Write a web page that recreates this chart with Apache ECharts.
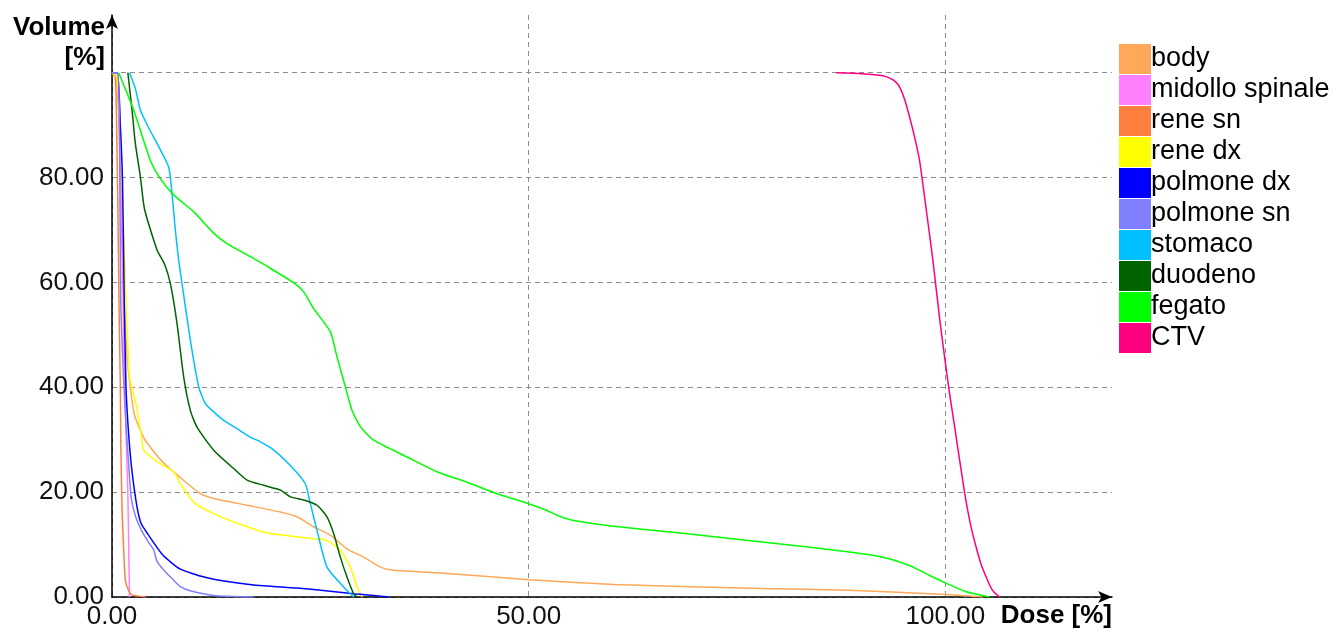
<!DOCTYPE html>
<html>
<head>
<meta charset="utf-8">
<script src="https://cdn.jsdelivr.net/npm/echarts@6/dist/echarts.min.js"></script>
<style>
  html, body { margin: 0; padding: 0; background: #fff; }
  #dvh { width: 1335px; height: 635px; }
</style>
</head>
<body>
<div id="dvh"></div>
<script>
// curve names and colours, same order as the legend
var structures = ["body", "midollo spinale", "rene sn", "rene dx", "polmone dx",
  "polmone sn", "stomaco", "duodeno", "fegato", "CTV"];
var colors = ["#ffa858", "#ff80ff", "#ff7f3f", "#ffff00", "#0000ff",
  "#8080ff", "#00c0ff", "#006400", "#00ff00", "#ff0080"];

// [dose %, volume %]
var body = [[0,100],[0.5,99.5],[0.8,92],[1.1,75],[1.4,58],[1.8,46],[2.2,40],[2.7,34.7],[3.9,30.1],[6,25.9],[8.1,22.9],[10.6,19.7],[12.2,18.8],[16.2,17.5],[20.2,16.2],[22.2,15.3],[24.2,13.4],[26.2,11.8],[28.2,9.2],[30.2,7.6],[32.2,5.7],[33.8,5.1],[40.2,4.5],[50,3.3],[60.2,2.4],[68.2,2.0],[78,1.6],[88.5,1.3],[100,0.5],[104.5,0]];
var midollo = [[0,100],[0.6,99],[0.9,90],[1.1,75],[1.3,60],[1.5,43],[1.7,30],[1.9,20],[2.0,10],[2.1,0]];
var reneSn = [[0,100],[0.4,99],[0.55,90],[0.7,75],[0.85,55],[1.0,40],[1.05,30],[1.2,17],[1.4,9],[1.6,3.2],[2.0,1.2],[2.4,0.4],[4.0,0]];
var reneDx = [[0,100],[0.6,99],[1.0,90],[1.3,75],[1.6,60],[1.9,48],[2.1,42],[2.9,36.7],[3.6,30],[3.8,28],[5.4,25.8],[7.4,23.9],[8.2,21.6],[9.8,18.1],[12.2,15.9],[16.2,13.4],[19,12.1],[22.2,11.5],[24.2,11.1],[25.8,10.8],[27.4,8.9],[28.6,5.7],[29.4,1.9],[30.0,0]];
var polmoneDx = [[0,100],[0.65,100],[1.0,90],[1.26,79.4],[1.47,56.4],[1.68,40],[2.0,31],[2.4,24],[3.0,17.2],[3.5,14],[4.3,12],[6.1,8],[8.2,5.3],[10.6,4],[12.2,3.4],[17,2.3],[22.2,1.7],[26.2,1.1],[29,0.6],[31.4,0.3],[33.2,0]];
var polmoneSn = [[0,100],[0.7,100],[0.9,88],[1.05,56.4],[1.3,45],[1.5,38],[1.8,30],[2.3,19],[2.8,15.5],[3.6,12.5],[4.4,10.4],[5.0,9],[5.4,6.8],[6.4,4.8],[7.4,3.2],[8.2,2.0],[9.4,1.2],[12.2,0.3],[17,0]];
var stomaco = [[2.1,100],[2.8,97],[3.4,92.9],[4.4,89.5],[5.4,86.5],[6.8,82],[7.2,77],[7.6,70],[8.0,64.3],[8.4,59.8],[9.4,49],[10.4,40.1],[11.2,36.9],[12.2,35.3],[13.4,33.7],[15,32.1],[16.6,30.5],[17.8,29.6],[19.2,28.3],[21.4,25.1],[23.2,21.6],[23.8,17.8],[24.6,12.7],[25.8,5.7],[27.8,1.9],[29,0]];
var duodeno = [[1.9,100],[2.4,92.9],[2.8,86.5],[3.4,80.2],[3.9,74],[5.4,66.2],[6.3,63.5],[7.0,59.8],[7.8,52.2],[8.6,42],[9.4,35.6],[10.2,32.4],[12.2,28],[14.6,24.5],[16.2,22.3],[18.2,21.3],[20.2,20.4],[21.4,19.1],[23,18.5],[24.6,17.5],[25.8,15.3],[26.6,12.1],[27.4,7.6],[28.2,3.8],[29,0.6],[29.4,0]];
var fegato = [[0.8,100],[2.6,92.9],[4.6,83.3],[5.8,79.8],[7.4,76.7],[9.8,73.5],[12.2,69.4],[13.8,67.4],[16.6,64.9],[19.0,62.7],[21.8,59.9],[23.0,58.2],[24.2,55.0],[26.2,50.6],[27.0,45.8],[28.0,40.1],[28.8,35.6],[29.8,32.5],[31.4,29.9],[35.4,26.7],[39.0,23.9],[42.6,21.9],[46.2,19.7],[50.0,17.8],[52.2,16.5],[53.4,15.6],[55.4,14.6],[60.2,13.5],[68.2,12.2],[78,10.5],[88.5,8.6],[92.5,7.6],[95.7,6.0],[98,4.2],[100.0,2.7],[102.5,1.0],[105.3,0]];
var ctv = [[86.9,100],[90,99.8],[92.5,99.4],[93.4,98.9],[94.0,98.3],[94.5,97.3],[95.1,95],[95.7,91.6],[96.3,87.8],[96.9,83.3],[97.7,74],[98.5,64.3],[99.4,52],[100.4,40],[101,33.7],[102.3,20],[103,14],[103.7,9.5],[104.3,6.2],[104.9,3.8],[105.4,2],[105.8,1],[106.5,0]];

var curves = [body, midollo, reneSn, reneDx, polmoneDx, polmoneSn, stomaco, duodeno, fegato, ctv];

var font = "'Liberation Sans', Arial, sans-serif";

var chart = echarts.init(document.getElementById("dvh"));

var series = [];
for (var i = 0; i < structures.length; i++) {
  series.push({
    name: structures[i],
    type: "line",
    data: curves[i],
    showSymbol: false,
    symbol: "none",
    smooth: 0.2,
    color: colors[i],
    lineStyle: { color: colors[i], width: 1.5 }
  });
}

chart.setOption({
  animation: false,
  backgroundColor: "#fff",
  textStyle: { fontFamily: font },
  grid: {
    left: 112,
    right: 223,
    top: 15,
    bottom: 38,
    containLabel: false,
    outerBoundsMode: "none"
  },
  legend: {
    orient: "vertical",
    left: 1114,
    top: 39,
    icon: "rect",
    itemWidth: 32,
    itemHeight: 30,
    itemGap: 1,
    data: structures,
    textStyle: {
      fontFamily: font,
      fontSize: 27,
      color: "#000",
      lineHeight: 30,
      padding: [0, 0, 0, -5]
    }
  },
  xAxis: {
    type: "value",
    min: 0,
    max: 120,
    interval: 50,
    name: "Dose [%]",
    nameLocation: "end",
    nameGap: 0,
    nameTextStyle: {
      fontFamily: font,
      fontSize: 26,
      fontWeight: "bold",
      color: "#000",
      align: "right",
      verticalAlign: "top",
      padding: [6, 0, 0, 0]
    },
    axisLine: {
      lineStyle: { color: "#000", width: 1.5 },
      symbol: ["none", "arrow"],
      symbolSize: [9, 14]
    },
    axisTick: { show: false },
    axisLabel: {
      fontFamily: font,
      fontSize: 26,
      color: "#111",
      margin: 7,
      showMaxLabel: false,
      formatter: function (v) { return v % 50 === 0 ? v.toFixed(2) : ""; }
    },
    splitLine: {
      show: true,
      showMaxLine: false,
      lineStyle: { color: "#8c8c8c", type: [5, 4], width: 1 }
    }
  },
  yAxis: {
    type: "value",
    min: 0,
    max: 111,
    interval: 20,
    name: "Volume\n[%]",
    nameLocation: "end",
    nameGap: 2,
    nameTextStyle: {
      fontFamily: font,
      fontSize: 26,
      fontWeight: "bold",
      color: "#000",
      align: "right",
      verticalAlign: "top",
      lineHeight: 30,
      padding: [0, 7, 0, 0]
    },
    axisLine: {
      show: true,
      lineStyle: { color: "#000", width: 1.5 },
      symbol: ["none", "arrow"],
      symbolSize: [9, 14]
    },
    axisTick: { show: false },
    axisLabel: {
      fontFamily: font,
      fontSize: 26,
      color: "#111",
      margin: 8,
      showMaxLabel: false,
      formatter: function (v) { return (v % 20 === 0 && v < 100) ? v.toFixed(2) : ""; }
    },
    splitLine: {
      show: true,
      showMaxLine: false,
      lineStyle: { color: "#8c8c8c", type: [5, 4], width: 1 }
    }
  },
  series: series
});
</script>
</body>
</html>
